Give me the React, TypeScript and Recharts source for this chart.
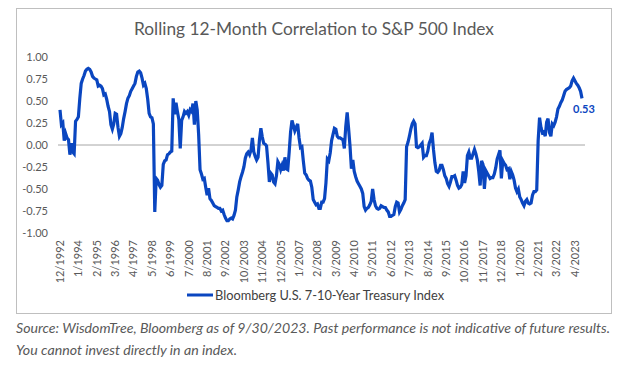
import { LineChart, Line, XAxis, YAxis, ReferenceLine } from 'recharts';

// rolling 12-month correlation, monthly, 12/1992 .. 9/2023
const Y1992 = [0.40];
const Y1993 = [0.23, 0.25, 0.05, 0.13, 0.08, 0.06, -0.11, 0.02, -0.08, -0.10, 0.27, 0.29];
const Y1994 = [0.32, 0.53, 0.70, 0.75, 0.79, 0.84, 0.86, 0.87, 0.86, 0.83, 0.78, 0.76];
const Y1995 = [0.75, 0.74, 0.67, 0.68, 0.67, 0.64, 0.57, 0.58, 0.52, 0.44, 0.38, 0.23];
const Y1996 = [0.18, 0.24, 0.36, 0.35, 0.20, 0.10, 0.13, 0.20, 0.30, 0.38, 0.47, 0.53];
const Y1997 = [0.56, 0.61, 0.64, 0.67, 0.70, 0.78, 0.83, 0.84, 0.82, 0.76, 0.68, 0.70];
const Y1998 = [0.64, 0.52, 0.36, 0.32, 0.31, 0.24, -0.76, -0.38, -0.40, -0.45, -0.48, -0.46];
const Y1999 = [-0.22, -0.18, -0.17, -0.11, -0.10, -0.08, -0.07, 0.53, 0.35, 0.48, 0.38, 0.29];
const Y2000 = [-0.04, 0.28, 0.32, 0.38, 0.36, 0.38, 0.34, 0.40, 0.38, 0.47, 0.23, 0.50];
const Y2001 = [0.40, 0.12, -0.28, -0.33, -0.39, -0.38, -0.48, -0.57, -0.49, -0.61, -0.63, -0.66];
const Y2002 = [-0.69, -0.70, -0.71, -0.72, -0.72, -0.75, -0.74, -0.79, -0.83, -0.86, -0.86, -0.84];
const Y2003 = [-0.83, -0.84, -0.80, -0.74, -0.59, -0.51, -0.42, -0.36, -0.31, -0.25, -0.15, -0.10];
const Y2004 = [-0.08, -0.11, -0.06, 0.08, -0.08, -0.13, -0.17, -0.14, 0.06, 0.19, 0.09, 0.02];
const Y2005 = [0.01, -0.01, -0.20, -0.42, -0.32, -0.34, -0.42, -0.44, -0.35, -0.19, -0.22, -0.28];
const Y2006 = [-0.23, -0.29, -0.14, -0.27, -0.28, -0.08, 0.15, 0.28, 0.22, 0.16, 0.20, 0.24];
const Y2007 = [0.08, -0.03, -0.02, -0.18, -0.32, -0.34, -0.38, -0.40, -0.41, -0.48, -0.62, -0.65];
const Y2008 = [-0.68, -0.67, -0.72, -0.72, -0.65, -0.65, -0.61, -0.43, -0.16, -0.18, -0.09, 0.05];
const Y2009 = [0.12, 0.19, 0.18, 0.10, 0.08, 0.08, 0.07, 0.06, -0.04, 0.21, 0.37, 0.19];
const Y2010 = [-0.01, -0.27, -0.17, -0.30, -0.36, -0.41, -0.44, -0.47, -0.50, -0.55, -0.70, -0.74];
const Y2011 = [-0.72, -0.71, -0.68, -0.64, -0.50, -0.62, -0.69, -0.72, -0.73, -0.72, -0.69, -0.70];
const Y2012 = [-0.71, -0.71, -0.74, -0.76, -0.81, -0.81, -0.80, -0.79, -0.70, -0.65, -0.66, -0.76];
const Y2013 = [-0.73, -0.69, -0.66, -0.62, -0.02, 0.03, 0.10, 0.18, 0.24, 0.27, 0.24, -0.02];
const Y2014 = [-0.03, -0.02, 0.00, 0.02, -0.14, -0.12, -0.12, -0.07, 0.02, 0.06, 0.14, -0.05];
const Y2015 = [-0.20, -0.30, -0.31, -0.29, -0.23, -0.23, -0.28, -0.35, -0.38, -0.44, -0.47, -0.42];
const Y2016 = [-0.36, -0.36, -0.35, -0.40, -0.46, -0.49, -0.48, -0.45, -0.30, -0.43, -0.35, -0.12];
const Y2017 = [-0.08, -0.15, -0.15, -0.10, -0.05, -0.10, -0.17, -0.30, -0.46, -0.18, -0.22, -0.50];
const Y2018 = [-0.29, -0.32, -0.35, -0.38, -0.37, -0.37, -0.33, -0.26, -0.16, -0.11, -0.06, -0.38];
const Y2019 = [-0.18, -0.21, -0.23, -0.28, -0.27, -0.39, -0.30, -0.34, -0.40, -0.49, -0.53, -0.50];
const Y2020 = [-0.59, -0.62, -0.66, -0.69, -0.64, -0.62, -0.66, -0.67, -0.66, -0.57, -0.53, -0.53];
const Y2021 = [-0.51, 0.05, 0.31, 0.20, 0.14, 0.15, 0.10, 0.26, 0.30, 0.14, 0.10, 0.24];
const Y2022 = [0.22, 0.26, 0.32, 0.41, 0.44, 0.48, 0.51, 0.56, 0.61, 0.63, 0.64, 0.65];
const Y2023 = [0.67, 0.73, 0.76, 0.73, 0.70, 0.68, 0.65, 0.61, 0.53];

const BY_YEAR = [
  Y1992, Y1993, Y1994, Y1995, Y1996, Y1997, Y1998, Y1999, Y2000, Y2001, Y2002,
  Y2003, Y2004, Y2005, Y2006, Y2007, Y2008, Y2009, Y2010, Y2011, Y2012, Y2013,
  Y2014, Y2015, Y2016, Y2017, Y2018, Y2019, Y2020, Y2021, Y2022, Y2023,
];
const START_YEAR = 1992;
const START_MONTH = 12;
const Y_TICKS = [-1, -0.75, -0.5, -0.25, 0, 0.25, 0.5, 0.75, 1];

const SERIES_NAME = 'Bloomberg U.S. 7-10-Year Treasury Index';
const TITLE = 'Rolling 12-Month Correlation to S&P 500 Index';
const NOTE_1 = 'Source: WisdomTree, Bloomberg as of 9/30/2023. Past performance is not indicative of future results.';
const NOTE_2 = 'You cannot invest directly in an index.';

const BLUE = '#0a46c0';
const GREY = '#595959';
const FONT = 'Lato, "Open Sans", sans-serif';

const values = BY_YEAR.flat();
const data = values.map((v, i) => {
  const m0 = START_MONTH - 1 + i;
  return { date: `${(m0 % 12) + 1}/${START_YEAR + Math.floor(m0 / 12)}`, corr: v };
});
const lastIdx = data.length - 1;

const DateTick = ({ x, y, payload }: any) => (
  <text
    x={x}
    y={y}
    transform={`rotate(-90, ${x}, ${y})`}
    textAnchor="end"
    dy="0.35em"
    fontSize={11}
    fill={GREY}
    fontFamily={FONT}
  >
    {payload.value}
  </text>
);

const EndLabel = ({ x, y, index }: any) => {
  if (index !== lastIdx) return null;
  return (
    <text x={x + 2} y={y + 15} textAnchor="middle" fontSize={11} fontWeight={700} fill={BLUE} fontFamily={FONT}>
      {values[lastIdx].toFixed(2)}
    </text>
  );
};

export default function App() {
  return (
    <div style={{ position: 'absolute', left: 0, top: 0, width: 640, height: 375, background: '#fff' }}>
      <svg width={640} height={375} style={{ position: 'absolute', left: 0, top: 0 }}>
        <rect x={16.5} y={8.5} width={595} height={305} fill="#fff" stroke="#bfbfbf" />
        <text x={314} y={35} textAnchor="middle" fontSize={18} fill={GREY} fontFamily={FONT} textLength={360} lengthAdjust="spacingAndGlyphs">
          {TITLE}
        </text>
        <line x1={187} y1={295} x2={213} y2={295} stroke={BLUE} strokeWidth={3} />
        <text x={215} y={299.5} fontSize={13} fill="#404040" fontFamily={FONT} textLength={229} lengthAdjust="spacingAndGlyphs">
          {SERIES_NAME}
        </text>
        <text x={16} y={333} fontSize={13.3} fontStyle="italic" fill={GREY} fontFamily={FONT} textLength={594} lengthAdjust="spacingAndGlyphs">
          {NOTE_1}
        </text>
        <text x={16} y={355} fontSize={13.3} fontStyle="italic" fill={GREY} fontFamily={FONT} textLength={221} lengthAdjust="spacingAndGlyphs">
          {NOTE_2}
        </text>
      </svg>
      <div style={{ position: 'absolute', left: 0, top: 0 }}>
        <LineChart width={640} height={290} data={data} margin={{ top: 57, right: 55, bottom: 0, left: 0 }}>
          <XAxis
            dataKey="date"
            interval={12}
            height={57}
            tick={<DateTick />}
            tickLine={false}
            axisLine={false}
            tickSize={0}
            tickMargin={7}
            padding={{ left: 2, right: 3 }}
          />
          <YAxis
            domain={[-1, 1]}
            ticks={Y_TICKS}
            width={58}
            tickFormatter={(v: number) => v.toFixed(2)}
            tick={{ fontSize: 11, fill: GREY, fontFamily: FONT }}
            tickLine={false}
            axisLine={false}
            tickSize={0}
            tickMargin={10}
          />
          <ReferenceLine y={0} stroke="#a6a6a6" strokeWidth={1} />
          <Line
            type="linear"
            dataKey="corr"
            stroke={BLUE}
            strokeWidth={3.2}
            dot={false}
            isAnimationActive={false}
            label={<EndLabel />}
          />
        </LineChart>
      </div>
    </div>
  );
}
